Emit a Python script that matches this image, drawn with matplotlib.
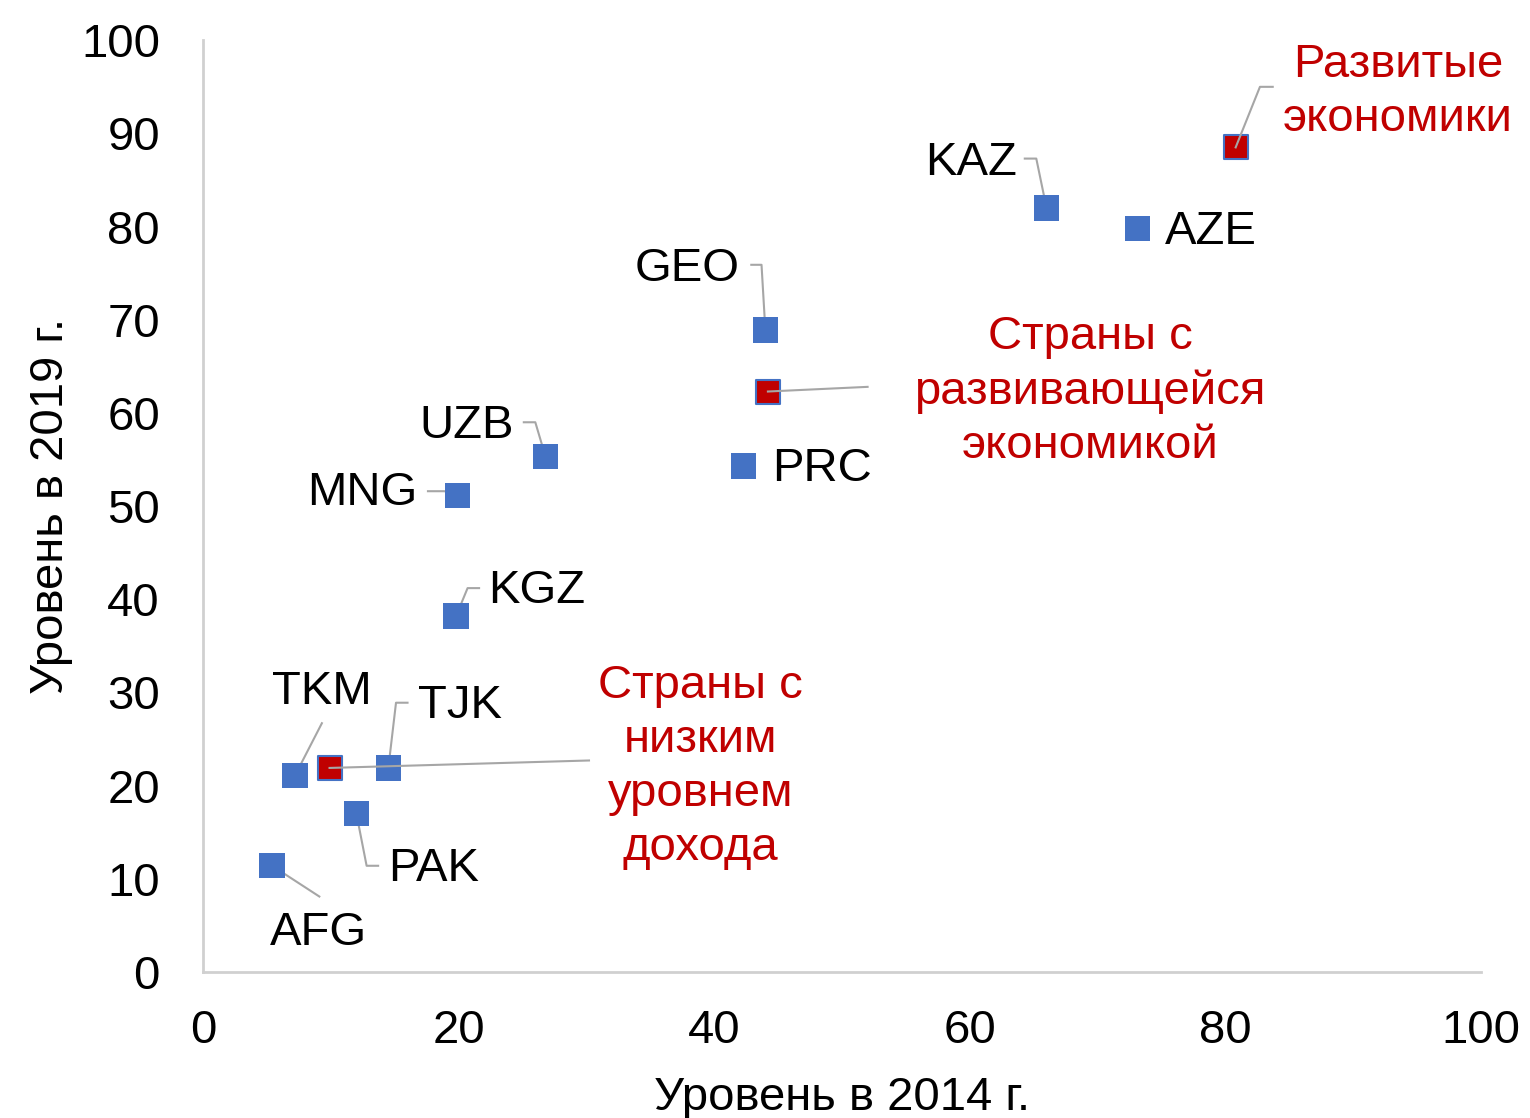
import numpy as np
import matplotlib.pyplot as plt

plt.rcParams['font.family'] = ['Liberation Sans', 'DejaVu Sans']

# country data: level in 2014 (x) and 2019 (y)
countries = ['AFG', 'TKM', 'TJK', 'PAK', 'KGZ', 'MNG', 'UZB', 'PRC', 'GEO', 'KAZ', 'AZE']
lvl_2014 = [5.4, 7.2, 14.5, 12.0, 19.8, 19.9, 26.8, 42.3, 44.0, 66.0, 73.1]
lvl_2019 = [11.4, 21.1, 21.9, 17.0, 38.2, 51.1, 55.3, 54.3, 68.9, 82.0, 79.8]

# group averages
groups = ['Страны с\nнизким\nуровнем\nдохода',
          'Страны с\nразвивающейся\nэкономикой',
          'Развитые\nэкономики']
grp_2014 = [9.9, 44.2, 80.8]
grp_2019 = [21.9, 62.3, 88.5]

# label placement: (x, y, ha, leader path or None)
lab_pos = {
    'AFG': (9.0, 4.2, 'center', [(9.1, 8.1)]),
    'TKM': (9.3, 30.0, 'center', [(9.3, 26.7)]),
    'TJK': (16.8, 28.5, 'left', [(16.0, 28.9), (15.1, 28.9)]),
    'PAK': (14.5, 11.1, 'left', [(13.7, 11.4), (12.8, 11.4)]),
    'KGZ': (22.3, 40.9, 'left', [(21.6, 41.2), (20.7, 41.2)]),
    'MNG': (16.8, 51.4, 'right', [(17.6, 51.6), (18.9, 51.6)]),
    'UZB': (24.3, 58.6, 'right', [(25.1, 59.0), (26.0, 59.0)]),
    'PRC': (44.5, 54.0, 'left', None),
    'GEO': (42.0, 75.5, 'right', [(42.9, 75.9), (43.7, 75.9)]),
    'KAZ': (63.7, 86.8, 'right', [(64.3, 87.3), (65.2, 87.3)]),
    'AZE': (75.3, 79.4, 'left', None),
}
grp_pos = [(38.9, 22.0, [(30.2, 22.7)]),
           (69.4, 62.3, [(52.0, 62.8)]),
           (93.5, 94.4, [(83.7, 95.0), (82.7, 95.0)])]

blue = '#4472C4'
red = '#C00000'
gray = '#A6A6A6'
fs = 34

fig = plt.figure(figsize=(15.3, 11.18), dpi=100)
ax = fig.add_axes([0.1327, 0.1306, 0.8353, 0.8334])

# leader lines first so markers sit on top
for c, x, y in zip(countries, lvl_2014, lvl_2019):
    lx, ly, ha, path = lab_pos[c]
    if path:
        pts = path + [(x, y)]
        ax.plot([p[0] for p in pts], [p[1] for p in pts], color=gray, lw=1.5, zorder=2)
for (lx, ly, path), x, y in zip(grp_pos, grp_2014, grp_2019):
    pts = path + [(x, y)]
    ax.plot([p[0] for p in pts], [p[1] for p in pts], color=gray, lw=1.5, zorder=4)

ax.scatter(lvl_2014, lvl_2019, marker='s', s=330, color=blue, edgecolors='none', zorder=3)
ax.scatter(grp_2014, grp_2019, marker='s', s=290, facecolor=red, edgecolors=blue,
           linewidths=1.5, zorder=3)

for c in countries:
    lx, ly, ha, path = lab_pos[c]
    ax.text(lx, ly, c, fontsize=fs, ha=ha, va='center', color='black', zorder=5)
for g, (lx, ly, path) in zip(groups, grp_pos):
    ax.text(lx, ly, g, fontsize=fs, ha='center', va='center', color=red,
            linespacing=1.29, zorder=5)

ax.set_xlim(0, 100)
ax.set_ylim(0, 100)
ax.set_xticks(np.arange(0, 101, 20))
ax.set_yticks(np.arange(0, 101, 10))
ax.tick_params(length=0, labelsize=fs)
ax.tick_params(axis='y', pad=31)
ax.tick_params(axis='x', pad=27)
for s in ['top', 'right']:
    ax.spines[s].set_visible(False)
for s in ['left', 'bottom']:
    ax.spines[s].set_color('#D0D0D0')
    ax.spines[s].set_linewidth(2)

ax.set_xlabel('Уровень в 2014 г.', fontsize=fs, labelpad=16)
ax.set_ylabel('Уровень в 2019 г.', fontsize=fs, labelpad=6)

fig.savefig('out.png', dpi=100)
